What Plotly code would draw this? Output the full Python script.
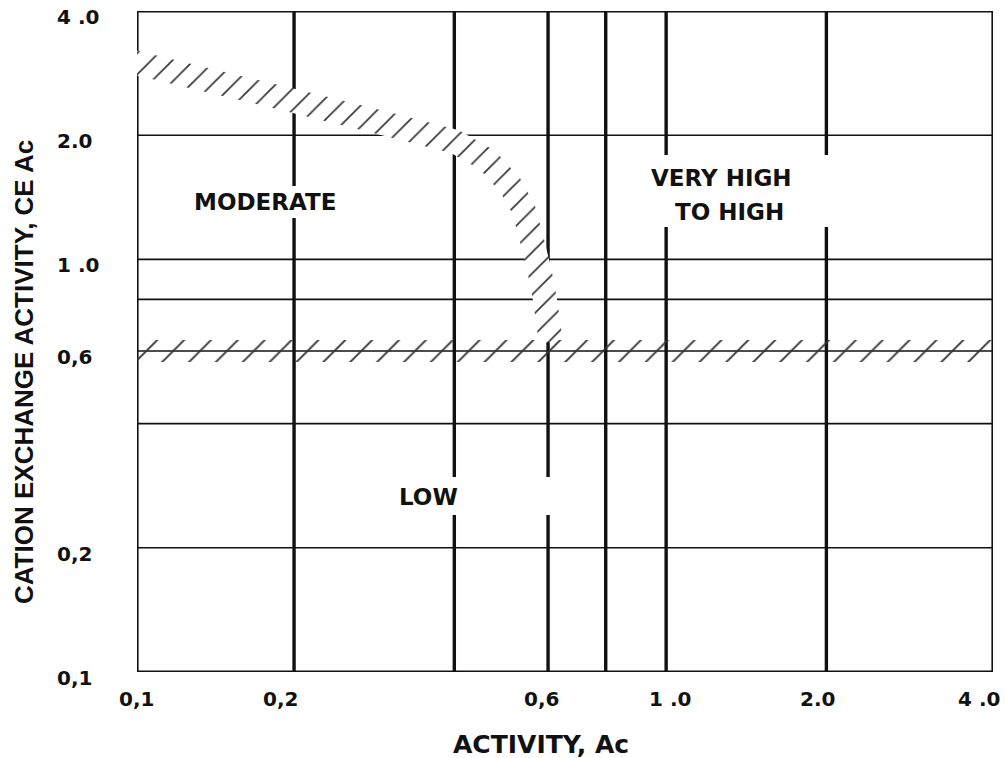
import math
import plotly.graph_objects as go

# ---- chart data -------------------------------------------------------------
# Tick values and their printed labels
X_TICKS = [0.1, 0.2, 0.6, 1.0, 2.0, 4.0]
X_TICK_TEXT = ["0,1", "0,2", "0,6", "1 .0", "2.0", "4 .0"]
Y_TICKS = [4.0, 2.0, 1.0, 0.6, 0.2, 0.1]
Y_TICK_TEXT = ["4 .0", "2.0", "1 .0", "0,6", "0,2", "0,1"]

# Heavy vertical division lines (activity, Ac)
AC_LINES = [0.2, 0.4, 0.6, 0.77, 1.0, 2.0]
# Light horizontal division lines (cation exchange activity, CEAc)
CEAC_LINES = [2.0, 1.0, 0.8, 0.6, 0.4, 0.2]

# Centre line of the hatched transition band (MODERATE / VERY HIGH)
BAND_AC = [0.095, 0.133, 0.198, 0.29, 0.401, 0.462, 0.51, 0.54, 0.56, 0.578, 0.592, 0.603, 0.606]
BAND_CEAC = [3.05, 2.75, 2.43, 2.15, 1.93, 1.74, 1.51, 1.32, 1.11, 0.94, 0.80, 0.675, 0.63]

# Hatched lower boundary (LOW region below it)
LOW_LIMIT = 0.6

# Region names
REGIONS = ["MODERATE", "VERY HIGH", "TO HIGH", "LOW"]
REGION_AC = [0.1764, 1.268, 1.313, 0.357]
REGION_CEAC = [1.377, 1.575, 1.303, 0.2655]

# ---- layout geometry --------------------------------------------------------
W, H = 1005, 758
M_L, M_R, M_T, M_B = 137, 12, 11, 86
PW, PH = W - M_L - M_R, H - M_T - M_B
X_RANGE = [-0.994, 0.614]
Y_RANGE = [-1.0, math.log10(4.0)]
KX = PW / (X_RANGE[1] - X_RANGE[0])   # px per decade
KY = PH / (Y_RANGE[1] - Y_RANGE[0])

INK = "#111111"
HATCH = "#333333"
BOLD = dict(family="DejaVu Sans", weight="bold", color=INK)

x_lo, x_hi = 10 ** X_RANGE[0], 10 ** X_RANGE[1]
y_lo, y_hi = 10 ** Y_RANGE[0], 10 ** Y_RANGE[1]


def band_polygon(xs, ys, half_px):
    """Outline of a band of constant pixel width around a log-log centre line."""
    u = [math.log10(x) * KX for x in xs]
    v = [math.log10(y) * KY for y in ys]
    n = len(u)
    upper, lower = [], []
    for i in range(n):
        a, b = max(i - 1, 0), min(i + 1, n - 1)
        du, dv = u[b] - u[a], v[b] - v[a]
        L = math.hypot(du, dv)
        nx, ny = -dv / L, du / L
        upper.append((u[i] + half_px * nx, v[i] + half_px * ny))
        lower.append((u[i] - half_px * nx, v[i] - half_px * ny))
    ring = upper + lower[::-1] + [upper[0]]
    return ([10 ** (p[0] / KX) for p in ring], [10 ** (p[1] / KY) for p in ring])


def x_paper(v):
    return (math.log10(v) - X_RANGE[0]) / (X_RANGE[1] - X_RANGE[0])


def paper_x(px):
    return (px - M_L) / PW


def paper_y(py):
    return (H - M_B - py) / PH


fig = go.Figure()

# thin horizontal division lines
hx, hy = [], []
for c in CEAC_LINES:
    hx += [x_lo, x_hi, None]
    hy += [c, c, None]
fig.add_trace(go.Scatter(x=hx, y=hy, mode="lines", line=dict(color=INK, width=1.6),
                         hoverinfo="skip"))

# heavy vertical division lines
vx, vy = [], []
for a in AC_LINES:
    vx += [a, a, None]
    vy += [y_lo, y_hi, None]
fig.add_trace(go.Scatter(x=vx, y=vy, mode="lines", line=dict(color=INK, width=3.4),
                         hoverinfo="skip"))

# frame (half of the stroke falls outside the clipped plot area)
fig.add_trace(go.Scatter(x=[x_lo, x_hi, x_hi, x_lo, x_lo], y=[y_lo, y_lo, y_hi, y_hi, y_lo],
                         mode="lines", line=dict(color=INK, width=3.2), hoverinfo="skip"))

# hatched transition band, white underneath so it interrupts the lines
bx, by = band_polygon(BAND_AC, BAND_CEAC, 12)
fig.add_trace(go.Scatter(
    x=bx, y=by, mode="lines", fill="toself", line=dict(width=0, color="rgba(0,0,0,0)"),
    fillcolor="white",
    fillpattern=dict(shape="/", size=15, solidity=0.11, fgcolor=HATCH, fgopacity=1,
                     bgcolor="white", fillmode="replace"),
    hoverinfo="skip"))

# hatched lower boundary along CEAc = 0.6
k = 10 ** (11 / KY)
fig.add_trace(go.Scatter(
    x=[x_lo * 0.9, x_hi * 1.1, x_hi * 1.1, x_lo * 0.9, x_lo * 0.9],
    y=[LOW_LIMIT / k, LOW_LIMIT / k, LOW_LIMIT * k, LOW_LIMIT * k, LOW_LIMIT / k],
    mode="lines", fill="toself", line=dict(width=0, color="rgba(0,0,0,0)"),
    fillcolor="rgba(0,0,0,0)",
    fillpattern=dict(shape="/", size=19, solidity=0.1, fgcolor=HATCH, fgopacity=1,
                     bgcolor="rgba(0,0,0,0)", fillmode="overlay"),
    hoverinfo="skip"))

# white backgrounds behind the region names
shapes = []
for x0, x1, y0, y1 in [(185, 345, 186, 218), (640, 835, 155, 227), (392, 550, 477, 515)]:
    shapes.append(dict(type="rect", xref="paper", yref="paper", layer="above",
                       x0=paper_x(x0), x1=paper_x(x1), y0=paper_y(y1), y1=paper_y(y0),
                       fillcolor="white", line=dict(width=0)))

annotations = []
# region names
for name, a, c in zip(REGIONS, REGION_AC, REGION_CEAC):
    annotations.append(dict(text=name, x=math.log10(a), y=math.log10(c), xref="x", yref="y",
                            showarrow=False, font=dict(BOLD, size=23),
                            xanchor="center", yanchor="middle"))

# x tick labels
X_NUDGE = [3, -14, -7, 4, -9, -8]
for v, t, dx in zip(X_TICKS, X_TICK_TEXT, X_NUDGE):
    annotations.append(dict(text=t, x=x_paper(v), y=0, xref="paper", yref="paper",
                            showarrow=False, font=dict(BOLD, size=20),
                            xanchor="center", yanchor="middle", xshift=dx, yshift=-27))
# y tick labels
for v, t in zip(Y_TICKS, Y_TICK_TEXT):
    annotations.append(dict(text=t, x=0, y=math.log10(v), xref="paper", yref="y",
                            showarrow=False, font=dict(BOLD, size=20),
                            xanchor="left", yanchor="middle", xshift=-82, yshift=-6))

# axis titles
annotations.append(dict(text="ACTIVITY, Ac", x=paper_x(541), y=0, xref="paper", yref="paper",
                        showarrow=False, font=dict(BOLD, size=25),
                        xanchor="center", yanchor="middle", yshift=-72))
annotations.append(dict(text="CATION EXCHANGE ACTIVITY, CE Ac", x=0, y=paper_y(372),
                        xref="paper", yref="paper", showarrow=False, textangle=-90,
                        font=dict(family="Liberation Sans", weight="bold", color=INK, size=26),
                        xanchor="center", yanchor="middle", xshift=24 - M_L))

axis_common = dict(type="log", showgrid=False, zeroline=False, showline=False,
                   showticklabels=False, ticks="")
fig.update_layout(
    width=W, height=H,
    margin=dict(l=M_L, r=M_R, t=M_T, b=M_B),
    paper_bgcolor="white", plot_bgcolor="white",
    showlegend=False,
    xaxis=dict(axis_common, range=X_RANGE),
    yaxis=dict(axis_common, range=Y_RANGE),
    shapes=shapes,
    annotations=annotations,
)

fig.write_html("out.html")
